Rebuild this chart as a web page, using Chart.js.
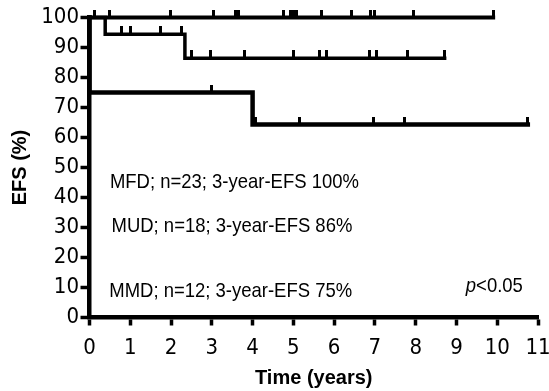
<!DOCTYPE html>
<html>
<head>
<meta charset="utf-8">
<script src="https://cdn.jsdelivr.net/npm/chart.js@4/dist/chart.umd.min.js"></script>
<style>
html,body{margin:0;padding:0;background:#fff;}
#wrap{width:549px;height:391px;}
</style>
</head>
<body>
<div id="wrap"><canvas id="c" width="549" height="391"></canvas></div>
<script>
// Kaplan-Meier step data (time in years, EFS in %)
const mfdTimes = [0, 9.9];
const mfdSurv  = [100, 100];
const mfdCensor = [0.115, 0.48, 1.99, 3.03, 3.58, 3.66, 4.75, 4.92, 5.0, 5.08, 5.69, 6.43, 6.9, 7.0, 7.95, 9.9];

const mudTimes = [0, 0.385, 2.34, 8.71];
const mudSurv  = [100, 94.4, 86.4, 86.4];
const mudCensor = [0.79, 1.0, 1.73, 2.26, 2.51, 2.96, 3.81, 5.0, 5.65, 5.82, 6.86, 7.04, 7.81, 8.71];

const mmdTimes = [0, 0, 0, 0, 4.0, 10.75];
const mmdSurv  = [100, 91.7, 83.3, 75, 64.3, 64.3];
const mmdCensor = [3.0, 4.06, 5.16, 6.97, 7.73, 10.75];

const xTicks = [0,1,2,3,4,5,6,7,8,9,10,11];
const yTicks = [0,10,20,30,40,50,60,70,80,90,100];

const annTexts = [
  'MFD; n=23; 3-year-EFS 100%',
  'MUD; n=18; 3-year-EFS 86%',
  'MMD; n=12; 3-year-EFS 75%'
];
const pText = ['p', '<0.05'];

function toPoints(ts, ss){ return ts.map((t,i)=>({x:t,y:ss[i]})); }
// value of the step function (right-continuous) at time t
function stepAt(ts, ss, t){
  let v = ss[0];
  for(let i=0;i<ts.length;i++){ if(ts[i] <= t + 1e-9) v = ss[i]; }
  return v;
}
function censorPoints(cs, ts, ss){ return cs.map(t=>({x:t,y:stepAt(ts,ss,t)})); }

// censor tick glyph: small vertical mark above the line
const tick = document.createElement('canvas');
tick.width = 3; tick.height = 16;
(function(){ const g = tick.getContext('2d'); g.fillStyle='#000'; g.fillRect(0,0,3,8); })();

const FONT = "'Liberation Sans', Arial, sans-serif";
const COND = "'DejaVu Sans Condensed', 'Liberation Sans', sans-serif";

const annPlugin = {
  id:'ann',
  afterDatasetsDraw(chart){
    const {ctx, scales:{x,y}} = chart;
    const pos = [[0.50,43.1],[0.54,28.6],[0.485,6.75]];
    const sx = 0.88;
    ctx.save();
    ctx.fillStyle='#000';
    ctx.textBaseline='alphabetic';
    ctx.textAlign='left';
    annTexts.forEach((t,i)=>{
      ctx.save();
      ctx.translate(x.getPixelForValue(pos[i][0]), y.getPixelForValue(pos[i][1]));
      ctx.scale(sx,1);
      ctx.font = "21px " + FONT;
      ctx.fillText(t, 0, 0);
      ctx.restore();
    });
    ctx.save();
    ctx.translate(x.getPixelForValue(9.23), y.getPixelForValue(8.6));
    ctx.scale(sx,1);
    ctx.font = "italic 21px " + FONT;
    ctx.fillText(pText[0], 0, 0);
    const w = ctx.measureText(pText[0]).width;
    ctx.font = "21px " + FONT;
    ctx.fillText(pText[1], w, 0);
    ctx.restore();
    ctx.restore();
  }
};

const lineDs = (data, bw) => ({
  type:'line', data, stepped:true, borderColor:'#000', borderWidth:bw,
  pointRadius:0, fill:false, clip:false, borderCapStyle:'square', borderJoinStyle:'miter'
});
const censDs = (data) => ({
  type:'scatter', data, pointStyle:tick, pointRadius:5, showLine:false, clip:false
});

new Chart(document.getElementById('c'), {
  data:{
    datasets:[
      lineDs(toPoints(mfdTimes,mfdSurv), 4),
      lineDs(toPoints(mudTimes,mudSurv), 3.5),
      lineDs(toPoints(mmdTimes,mmdSurv), 4.5),
      censDs(censorPoints(mfdCensor,mfdTimes,mfdSurv)),
      censDs(censorPoints(mudCensor,mudTimes,mudSurv)),
      censDs(censorPoints(mmdCensor,mmdTimes,mmdSurv))
    ]
  },
  options:{
    responsive:false, animation:false, devicePixelRatio:1,
    layout:{padding:{top:17.5, right:11, left:8, bottom:0}},
    plugins:{legend:{display:false}, tooltip:{enabled:false}},
    scales:{
      x:{
        type:'linear', min:0, max:11,
        afterBuildTicks(s){ s.ticks = xTicks.map(v=>({value:v})); },
        afterFit(s){ s.paddingRight = 11; s.height = 73.5; },
        grid:{drawOnChartArea:false, drawTicks:true, tickLength:8, tickWidth:3.5, tickColor:'#000'},
        border:{display:true, color:'#000', width:4.5},
        ticks:{color:'#000', font:{family:COND, size:22}, padding:10, maxRotation:0, autoSkip:false},
        title:{display:true, text:'Time (years)', color:'#000', font:{family:FONT, size:20, weight:'bold'}, padding:{top:0,bottom:1}}
      },
      y:{
        type:'linear', min:0, max:100,
        afterBuildTicks(s){ s.ticks = yTicks.map(v=>({value:v})); },
        afterFit(s){ s.width = 81.5; },
        grid:{drawOnChartArea:false, drawTicks:true, tickLength:9, tickWidth:3.5, tickColor:'#000'},
        border:{display:true, color:'#000', width:4.5},
        ticks:{color:'#000', font:{family:COND, size:22}, padding:1.5, autoSkip:false},
        title:{display:true, text:'EFS (%)', color:'#000', font:{family:FONT, size:20, weight:'bold'}, padding:{top:0,bottom:0}}
      }
    }
  },
  plugins:[annPlugin]
});
</script>
</body>
</html>
